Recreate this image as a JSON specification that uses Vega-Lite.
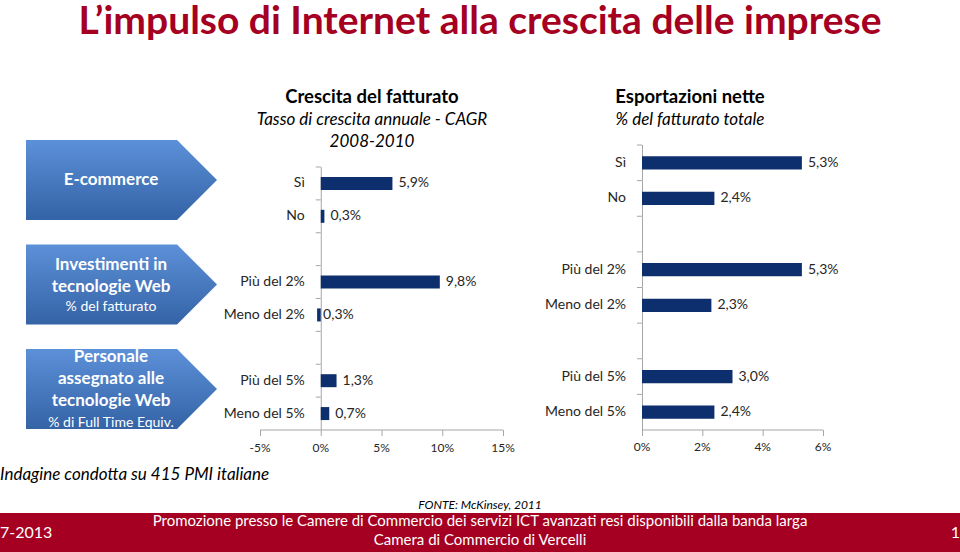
{
  "$schema": "https://vega.github.io/schema/vega-lite/v6.json",
  "background": "white",
  "padding": 0,
  "width": 960,
  "height": 552,
  "autosize": {"type": "none"},
  "config": {"font": "Lato", "view": {"stroke": null}},
  "datasets": {
    "categorie": [
      {"cat": "Sì", "label": "Sì", "zero": 0},
      {"cat": "No", "label": "No", "zero": 0},
      {"cat": "gap1", "label": "", "zero": 0},
      {"cat": "Più del 2%", "label": "Più del 2%", "zero": 0},
      {"cat": "Meno del 2%", "label": "Meno del 2%", "zero": 0},
      {"cat": "gap2", "label": "", "zero": 0},
      {"cat": "Più del 5%", "label": "Più del 5%", "zero": 0},
      {"cat": "Meno del 5%", "label": "Meno del 5%", "zero": 0}
    ],
    "crescita": [
      {"cat": "Sì", "value": 5.9, "label": "5,9%"},
      {"cat": "No", "value": 0.3, "label": "0,3%"},
      {"cat": "Più del 2%", "value": 9.8, "label": "9,8%"},
      {"cat": "Meno del 2%", "value": -0.3, "label": "0,3%"},
      {"cat": "Più del 5%", "value": 1.3, "label": "1,3%"},
      {"cat": "Meno del 5%", "value": 0.7, "label": "0,7%"}
    ],
    "esportazioni": [
      {"cat": "Sì", "value": 5.3, "label": "5,3%"},
      {"cat": "No", "value": 2.4, "label": "2,4%"},
      {"cat": "Più del 2%", "value": 5.3, "label": "5,3%"},
      {"cat": "Meno del 2%", "value": 2.3, "label": "2,3%"},
      {"cat": "Più del 5%", "value": 3.0, "label": "3,0%"},
      {"cat": "Meno del 5%", "value": 2.4, "label": "2,4%"}
    ],
    "tickCrescita": [
      {"cat": "Meno del 5%", "v": -5, "label": "-5%"},
      {"cat": "Meno del 5%", "v": 0, "label": "0%"},
      {"cat": "Meno del 5%", "v": 5, "label": "5%"},
      {"cat": "Meno del 5%", "v": 10, "label": "10%"},
      {"cat": "Meno del 5%", "v": 15, "label": "15%"}
    ],
    "tickEsportazioni": [
      {"cat": "Meno del 5%", "v": 0, "label": "0%"},
      {"cat": "Meno del 5%", "v": 2, "label": "2%"},
      {"cat": "Meno del 5%", "v": 4, "label": "4%"},
      {"cat": "Meno del 5%", "v": 6, "label": "6%"}
    ],
    "frecce": [
      {"gruppo": "Indicatori", "row": "E-commerce", "lines": "E-commerce", "sub": ""},
      {"gruppo": "Indicatori", "row": "Investimenti", "lines": "Investimenti in\ntecnologie Web", "sub": "% del fatturato"},
      {"gruppo": "Indicatori", "row": "Personale", "lines": "Personale\nassegnato alle\ntecnologie Web", "sub": "% di Full Time Equiv."}
    ]
  },
  "resolve": {"scale": {"x": "independent", "y": "independent"}},
  "layer": [
    {
      "data": {"name": "frecce"},
      "encoding": {
        "x": {"field": "gruppo", "type": "nominal", "scale": {"type": "band", "range": [0, 222], "paddingInner": 0, "paddingOuter": 0}, "axis": null},
        "y": {"field": "row", "type": "nominal", "sort": null,
              "scale": {"type": "point", "domain": ["E-commerce", "Investimenti", "Personale"], "range": [180, 389], "padding": 0}, "axis": null}
      },
      "layer": [
        {
          "mark": {
            "type": "point", "filled": true, "opacity": 1, "size": 44944,
            "shape": "M-0.802,-0.377L0.623,-0.377L1,0L0.623,0.377L-0.802,0.377Z",
            "fill": {"gradient": "linear", "x1": 0, "y1": 0, "x2": 0, "y2": 1,
                     "stops": [{"offset": 0, "color": "#5C90D8"}, {"offset": 1, "color": "#3463A6"}]},
            "strokeWidth": 0
          }
        },
        {
          "transform": [{"filter": "datum.row == 'E-commerce'"}],
          "mark": {"type": "text", "color": "white", "fontSize": 17, "fontWeight": "bold", "baseline": "middle", "align": "center"},
          "encoding": {"text": {"field": "lines"}}
        },
        {
          "transform": [{"filter": "datum.row == 'Investimenti'"}],
          "mark": {"type": "text", "color": "white", "fontSize": 17, "fontWeight": "bold",
                   "lineBreak": "\n", "lineHeight": 22, "baseline": "middle", "align": "center", "dy": -20},
          "encoding": {"text": {"field": "lines"}}
        },
        {
          "transform": [{"filter": "datum.row == 'Personale'"}],
          "mark": {"type": "text", "color": "white", "fontSize": 17, "fontWeight": "bold",
                   "lineBreak": "\n", "lineHeight": 22, "baseline": "middle", "align": "center", "dy": -32},
          "encoding": {"text": {"field": "lines"}}
        },
        {
          "transform": [{"filter": "datum.row == 'Investimenti'"}],
          "mark": {"type": "text", "color": "white", "fontSize": 14, "baseline": "middle", "align": "center", "dy": 22},
          "encoding": {"text": {"field": "sub"}}
        },
        {
          "transform": [{"filter": "datum.row == 'Personale'"}],
          "mark": {"type": "text", "color": "white", "fontSize": 14, "baseline": "middle", "align": "center", "dy": 34},
          "encoding": {"text": {"field": "sub"}}
        }
      ]
    },
    {
      "encoding": {
        "y": {"field": "cat", "type": "nominal",
              "scale": {"domain": ["Sì", "No", "gap1", "Più del 2%", "Meno del 2%", "gap2", "Più del 5%", "Meno del 5%"],
                        "range": [167, 430], "paddingInner": 0, "paddingOuter": 0}, "axis": null},
        "x": {"field": "value", "type": "quantitative",
              "scale": {"domain": [-5, 15], "range": [260, 503], "nice": false, "zero": false}, "axis": null}
      },
      "layer": [
        {"data": {"name": "categorie"},
         "mark": {"type": "bar", "color": "#A6A6A6", "x2Offset": 1},
         "encoding": {"x": {"field": "zero", "type": "quantitative"}, "x2": {"field": "zero"}}},
        {"data": {"name": "categorie"},
         "mark": {"type": "bar", "color": "#A6A6A6", "height": 1, "yOffset": -16.44, "x2Offset": -5},
         "encoding": {"x": {"field": "zero", "type": "quantitative"}, "x2": {"field": "zero"}}},
        {"data": {"name": "categorie"},
         "mark": {"type": "text", "align": "right", "baseline": "middle", "dx": -16, "fontSize": 14, "color": "#262626"},
         "encoding": {"x": {"field": "zero", "type": "quantitative"}, "text": {"field": "label"}}},
        {"data": {"values": [{"cat": "Meno del 5%", "da": -5, "a": 15}]},
         "mark": {"type": "bar", "color": "#A6A6A6", "height": 1, "yOffset": 16.44},
         "encoding": {"x": {"field": "da", "type": "quantitative"}, "x2": {"field": "a"}}},
        {"data": {"name": "tickCrescita"},
         "mark": {"type": "bar", "color": "#A6A6A6", "height": 6, "yOffset": 19.44, "x2Offset": 1},
         "encoding": {"x": {"field": "v", "type": "quantitative"}, "x2": {"field": "v"}}},
        {"data": {"name": "tickCrescita"},
         "mark": {"type": "text", "align": "center", "baseline": "middle", "dy": 34, "fontSize": 12, "color": "#262626"},
         "encoding": {"x": {"field": "v", "type": "quantitative"}, "text": {"field": "label"}}},
        {"data": {"name": "crescita"},
         "mark": {"type": "bar", "color": "#0E2F6E", "height": 13}},
        {"data": {"name": "crescita"},
         "mark": {"type": "text", "align": "left", "baseline": "middle", "dx": 6, "fontSize": 14, "color": "#262626"},
         "encoding": {"text": {"field": "label"}}}
      ]
    },
    {
      "encoding": {
        "y": {"field": "cat", "type": "nominal",
              "scale": {"domain": ["Sì", "No", "gap1", "Più del 2%", "Meno del 2%", "gap2", "Più del 5%", "Meno del 5%"],
                        "range": [145, 430], "paddingInner": 0, "paddingOuter": 0}, "axis": null},
        "x": {"field": "value", "type": "quantitative",
              "scale": {"domain": [0, 6], "range": [642, 823], "nice": false}, "axis": null}
      },
      "layer": [
        {"data": {"name": "categorie"},
         "mark": {"type": "bar", "color": "#A6A6A6", "x2Offset": 1},
         "encoding": {"x": {"field": "zero", "type": "quantitative"}, "x2": {"field": "zero"}}},
        {"data": {"name": "categorie"},
         "mark": {"type": "bar", "color": "#A6A6A6", "height": 1, "yOffset": -17.81, "x2Offset": -5},
         "encoding": {"x": {"field": "zero", "type": "quantitative"}, "x2": {"field": "zero"}}},
        {"data": {"name": "categorie"},
         "mark": {"type": "text", "align": "right", "baseline": "middle", "dx": -16, "fontSize": 14, "color": "#262626"},
         "encoding": {"x": {"field": "zero", "type": "quantitative"}, "text": {"field": "label"}}},
        {"data": {"values": [{"cat": "Meno del 5%", "da": 0, "a": 6}]},
         "mark": {"type": "bar", "color": "#A6A6A6", "height": 1, "yOffset": 17.81},
         "encoding": {"x": {"field": "da", "type": "quantitative"}, "x2": {"field": "a"}}},
        {"data": {"name": "tickEsportazioni"},
         "mark": {"type": "bar", "color": "#A6A6A6", "height": 6, "yOffset": 20.81, "x2Offset": 1},
         "encoding": {"x": {"field": "v", "type": "quantitative"}, "x2": {"field": "v"}}},
        {"data": {"name": "tickEsportazioni"},
         "mark": {"type": "text", "align": "center", "baseline": "middle", "dy": 35, "fontSize": 12, "color": "#262626"},
         "encoding": {"x": {"field": "v", "type": "quantitative"}, "text": {"field": "label"}}},
        {"data": {"name": "esportazioni"},
         "mark": {"type": "bar", "color": "#0E2F6E", "height": 13.3}},
        {"data": {"name": "esportazioni"},
         "mark": {"type": "text", "align": "left", "baseline": "middle", "dx": 6, "fontSize": 14, "color": "#262626"},
         "encoding": {"text": {"field": "label"}}}
      ]
    },
    {
      "encoding": {
        "x": {"field": "grafico", "type": "nominal",
              "scale": {"type": "point", "domain": ["Crescita del fatturato", "Esportazioni nette"], "range": [372, 690], "padding": 0}, "axis": null},
        "y": {"field": "livello", "type": "nominal",
              "scale": {"type": "point", "domain": ["titolo", "sottotitolo"], "range": [97, 109], "padding": 0}, "axis": null}
      },
      "layer": [
        {
          "data": {"values": [
            {"grafico": "Crescita del fatturato", "livello": "titolo", "text": "Crescita del fatturato"},
            {"grafico": "Esportazioni nette", "livello": "titolo", "text": "Esportazioni nette"}
          ]},
          "mark": {"type": "text", "fontSize": 18.5, "fontWeight": "bold", "color": "#000000", "align": "center", "baseline": "middle"},
          "encoding": {"text": {"field": "text"}}
        },
        {
          "data": {"values": [
            {"grafico": "Crescita del fatturato", "livello": "sottotitolo", "text": "Tasso di crescita annuale - CAGR\n2008-2010"},
            {"grafico": "Esportazioni nette", "livello": "sottotitolo", "text": "% del fatturato totale"}
          ]},
          "mark": {"type": "text", "fontSize": 17, "fontStyle": "italic", "color": "#000000", "align": "center",
                   "baseline": "line-top", "lineBreak": "\n", "lineHeight": 22},
          "encoding": {"text": {"field": "text"}}
        }
      ]
    },
    {
      "data": {"values": [{"slot": "titolo", "text": "L’impulso di Internet alla crescita delle imprese"}]},
      "mark": {"type": "text", "fontSize": 39, "fontWeight": "bold", "color": "#A50021", "align": "center", "baseline": "middle"},
      "encoding": {
        "y": {"field": "slot", "type": "nominal", "scale": {"type": "band", "range": [0, 44], "paddingInner": 0, "paddingOuter": 0}, "axis": null},
        "text": {"field": "text"}
      }
    },
    {
      "encoding": {
        "x": {"field": "pos", "type": "nominal",
              "scale": {"type": "point", "domain": ["left", "center", "right"], "padding": 0}, "axis": null},
        "y": {"field": "nota", "type": "nominal",
              "scale": {"type": "point", "domain": ["indagine", "fonte"], "range": [475, 505], "padding": 0}, "axis": null}
      },
      "layer": [
        {
          "data": {"values": [{"pos": "left", "nota": "indagine", "text": "Indagine condotta su 415 PMI italiane"}]},
          "mark": {"type": "text", "fontSize": 17, "fontStyle": "italic", "color": "#000000", "align": "left", "baseline": "middle"},
          "encoding": {"text": {"field": "text"}}
        },
        {
          "data": {"values": [{"pos": "center", "nota": "fonte", "text": "FONTE: McKinsey, 2011"}]},
          "mark": {"type": "text", "fontSize": 12, "fontStyle": "italic", "color": "#000000", "align": "center", "baseline": "middle"},
          "encoding": {"text": {"field": "text"}}
        }
      ]
    },
    {
      "encoding": {
        "y": {"field": "fascia", "type": "nominal",
              "scale": {"type": "band", "domain": ["piede"], "range": [513, 552], "paddingInner": 0, "paddingOuter": 0}, "axis": null}
      },
      "layer": [
        {
          "data": {"values": [{"fascia": "piede"}]},
          "mark": {"type": "rect", "color": "#A50021"}
        },
        {
          "data": {"values": [
            {"fascia": "piede", "pos": "center", "text": "Promozione presso le Camere di Commercio dei servizi ICT avanzati resi disponibili dalla banda larga\nCamera di Commercio di Vercelli"},
            {"fascia": "piede", "pos": "left", "text": "7-2013"},
            {"fascia": "piede", "pos": "right", "text": "1"}
          ]},
          "encoding": {
            "x": {"field": "pos", "type": "nominal",
                  "scale": {"type": "point", "domain": ["left", "center", "right"], "padding": 0}, "axis": null}
          },
          "layer": [
            {"transform": [{"filter": "datum.pos == 'center'"}],
             "mark": {"type": "text", "color": "white", "fontSize": 15, "lineBreak": "\n", "lineHeight": 19, "align": "center", "baseline": "middle", "dy": -12},
             "encoding": {"text": {"field": "text"}}},
            {"transform": [{"filter": "datum.pos == 'left'"}],
             "mark": {"type": "text", "color": "white", "fontSize": 16, "align": "left", "baseline": "middle"},
             "encoding": {"text": {"field": "text"}}},
            {"transform": [{"filter": "datum.pos == 'right'"}],
             "mark": {"type": "text", "color": "white", "fontSize": 16, "align": "right", "baseline": "middle"},
             "encoding": {"text": {"field": "text"}}}
          ]
        }
      ]
    }
  ]
}
